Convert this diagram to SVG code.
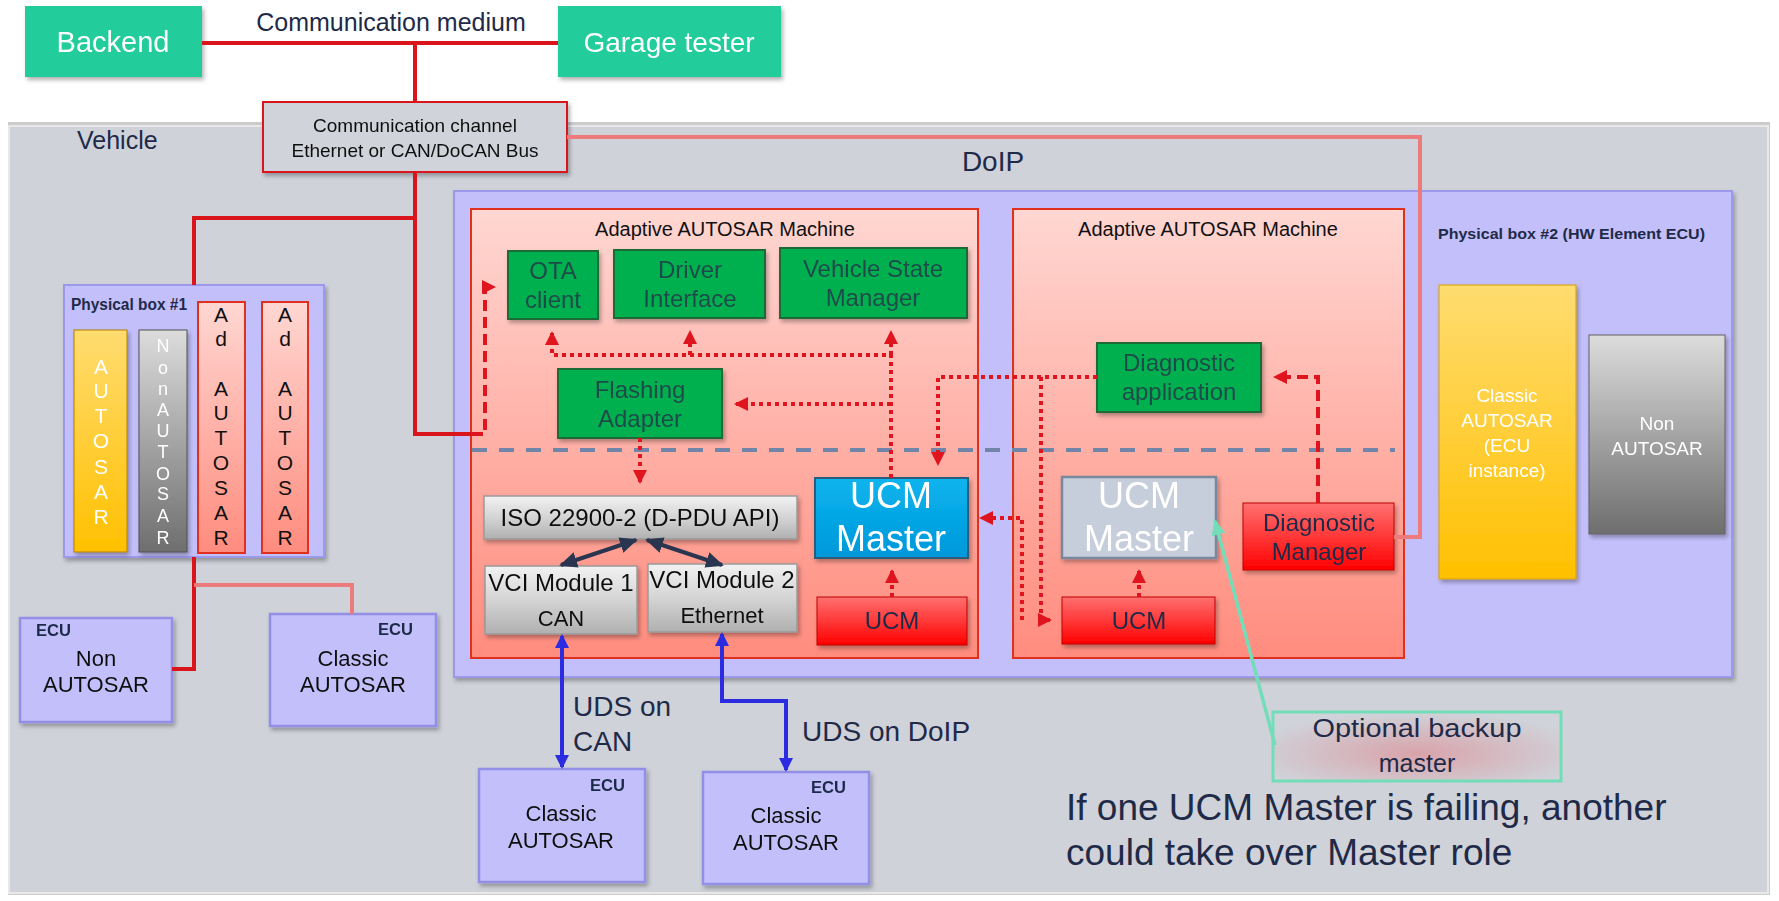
<svg xmlns="http://www.w3.org/2000/svg" width="1779" height="901" viewBox="0 0 1779 901">
<defs>
<style>
text{font-family:"Liberation Sans",Arial,sans-serif;}
.c{text-anchor:middle;}
.green{fill:#00B050;stroke:#1C6B34;stroke-width:2;}
.gtxt{fill:#1F4C4A;font-size:24px;text-anchor:middle;}
.blk{fill:#111111;}
.navy{fill:#1F2A48;}
.lbl{font-weight:bold;fill:#1F2A48;}
.ecu{fill:#C3BFFB;stroke:#948FE6;stroke-width:2.5;}
.red{stroke:#D9151B;stroke-width:4;fill:none;}
.pink{stroke:#EE7B7B;stroke-width:4;fill:none;}
.dot{stroke:#E0141E;stroke-width:4;fill:none;stroke-dasharray:4 4;}
.dash{stroke:#E0141E;stroke-width:4;fill:none;stroke-dasharray:11 6;}
.sep{stroke:#7085A8;stroke-width:4;fill:none;stroke-dasharray:15 12;}
.blue{stroke:#2B2BE0;stroke-width:4;fill:none;}
.dk{stroke:#2A3650;stroke-width:4;fill:none;}
.mint{stroke:#72DDB8;stroke-width:3.5;fill:none;}
.vert{font-size:21px;text-anchor:middle;}
</style>
<linearGradient id="gMach" x1="0" y1="0" x2="0" y2="1"><stop offset="0" stop-color="#FFD7D2"/><stop offset="1" stop-color="#FF8C7E"/></linearGradient>
<linearGradient id="gRed" x1="0" y1="0" x2="0" y2="1"><stop offset="0" stop-color="#FF7070"/><stop offset="1" stop-color="#FF0000"/></linearGradient>
<linearGradient id="gYel" x1="0" y1="0" x2="0" y2="1"><stop offset="0" stop-color="#FFDC70"/><stop offset="1" stop-color="#FFC000"/></linearGradient>
<linearGradient id="gGrayD" x1="0" y1="0" x2="0" y2="1"><stop offset="0" stop-color="#DCDCDC"/><stop offset="1" stop-color="#6E6E6E"/></linearGradient>
<linearGradient id="gSilver" x1="0" y1="0" x2="0" y2="1"><stop offset="0" stop-color="#F2F2F2"/><stop offset="0.5" stop-color="#D4D4D4"/><stop offset="1" stop-color="#B0B0B0"/></linearGradient>
<linearGradient id="gUcmB" x1="0" y1="0" x2="0" y2="1"><stop offset="0" stop-color="#0AB4EE"/><stop offset="1" stop-color="#0098DA"/></linearGradient>
<radialGradient id="gOpt" cx="0.5" cy="0.6" r="0.6"><stop offset="0" stop-color="#D9A3AA"/><stop offset="1" stop-color="#D0D3DA"/></radialGradient>
<filter id="sh" x="-10%" y="-10%" width="130%" height="130%"><feDropShadow dx="2" dy="3" stdDeviation="2" flood-color="#000" flood-opacity="0.3"/></filter>
<marker id="aR" markerUnits="userSpaceOnUse" markerWidth="14" markerHeight="14" refX="12" refY="7" orient="auto"><path d="M0,0 L14,7 L0,14 Z" fill="#E0141E"/></marker>
<marker id="aB" markerUnits="userSpaceOnUse" markerWidth="14" markerHeight="14" refX="12" refY="7" orient="auto-start-reverse"><path d="M0,0 L14,7 L0,14 Z" fill="#2B2BE0"/></marker>
<marker id="aK" markerUnits="userSpaceOnUse" markerWidth="18" markerHeight="16" refX="16" refY="8" orient="auto-start-reverse"><path d="M0,0 L18,8 L0,16 Z" fill="#2A3650"/></marker>
<marker id="aM" markerUnits="userSpaceOnUse" markerWidth="16" markerHeight="14" refX="14" refY="7" orient="auto"><path d="M0,0 L16,7 L0,14 Z" fill="#72DDB8"/></marker>
</defs>

<rect width="1779" height="901" fill="#FFFFFF"/>

<g id="vehicle">
<rect x="8" y="122" width="1762" height="773" fill="#9A9A9A" opacity="0.5"/>
<rect x="9" y="126" width="1759" height="767" fill="#CFD2D9" stroke="#E8E8E8" stroke-width="2"/>
<text x="77" y="149" font-size="25" class="navy">Vehicle</text>
<text x="993" y="171" font-size="28" class="c navy">DoIP</text>
</g>

<g id="backend" filter="url(#sh)">
<rect x="25" y="6" width="177" height="71" fill="#21CD9B"/>
<text x="113" y="52" font-size="29" class="c" fill="#FFFFFF">Backend</text>
</g>
<g id="garage" filter="url(#sh)">
<rect x="558" y="6" width="223" height="71" fill="#21CD9B"/>
<text x="669" y="52" font-size="28" class="c" fill="#FFFFFF">Garage tester</text>
</g>
<text x="391" y="31" font-size="25" class="c navy">Communication medium</text>

<g id="physbox2">
<rect x="454" y="191" width="1278" height="486" fill="#C3BFFB" stroke="#9C98EA" stroke-width="2" filter="url(#sh)"/>
<text x="1438" y="239" font-size="15" class="lbl" textLength="267" lengthAdjust="spacingAndGlyphs">Physical box #2 (HW Element ECU)</text>
</g>

<g id="classic-instance" filter="url(#sh)">
<rect x="1439" y="285" width="137" height="294" fill="url(#gYel)" stroke="#D9A000" stroke-width="1"/>
<text x="1507" y="402" font-size="19" class="c" fill="#FFFFFF">Classic</text>
<text x="1507" y="427" font-size="19" class="c" fill="#FFFFFF">AUTOSAR</text>
<text x="1507" y="452" font-size="19" class="c" fill="#FFFFFF">(ECU</text>
<text x="1507" y="477" font-size="19" class="c" fill="#FFFFFF">instance)</text>
</g>
<g id="non-autosar-2" filter="url(#sh)">
<rect x="1589" y="335" width="136" height="199" fill="url(#gGrayD)" stroke="#606060" stroke-width="1"/>
<text x="1657" y="430" font-size="19" class="c" fill="#FFFFFF">Non</text>
<text x="1657" y="455" font-size="19" class="c" fill="#FFFFFF">AUTOSAR</text>
</g>

<g id="machine1">
<rect x="471" y="209" width="507" height="449" fill="url(#gMach)" stroke="#E0301E" stroke-width="2"/>
<text x="725" y="236" font-size="20" class="c blk">Adaptive AUTOSAR Machine</text>
</g>
<g id="machine2">
<rect x="1013" y="209" width="391" height="449" fill="url(#gMach)" stroke="#E0301E" stroke-width="2"/>
<text x="1208" y="236" font-size="20" class="c blk">Adaptive AUTOSAR Machine</text>
</g>

<g id="comm-channel" filter="url(#sh)">
<rect x="263" y="102" width="304" height="70" fill="#D0D3DA" stroke="#D9151B" stroke-width="2"/>
<text x="415" y="132" font-size="19" class="c blk">Communication channel</text>
<text x="415" y="157" font-size="19" class="c blk">Ethernet or CAN/DoCAN Bus</text>
</g>

<g id="ota" filter="url(#sh)">
<rect x="508" y="251" width="90" height="68" class="green"/>
<text x="553" y="279" class="gtxt">OTA</text>
<text x="553" y="308" class="gtxt">client</text>
</g>
<g id="driver" filter="url(#sh)">
<rect x="614" y="250" width="151" height="68" class="green"/>
<text x="690" y="278" class="gtxt">Driver</text>
<text x="690" y="307" class="gtxt">Interface</text>
</g>
<g id="vsm" filter="url(#sh)">
<rect x="780" y="248" width="187" height="70" class="green"/>
<text x="873" y="277" class="gtxt">Vehicle State</text>
<text x="873" y="306" class="gtxt">Manager</text>
</g>
<g id="flashing" filter="url(#sh)">
<rect x="558" y="369" width="164" height="69" class="green"/>
<text x="640" y="398" class="gtxt">Flashing</text>
<text x="640" y="427" class="gtxt">Adapter</text>
</g>
<g id="diagapp" filter="url(#sh)">
<rect x="1097" y="343" width="164" height="69" class="green"/>
<text x="1179" y="371" class="gtxt">Diagnostic</text>
<text x="1179" y="400" class="gtxt">application</text>
</g>

<g id="iso" filter="url(#sh)">
<rect x="484" y="496" width="313" height="43" fill="url(#gSilver)" stroke="#9A9A9A" stroke-width="1.5"/>
<text x="640" y="526" font-size="24" class="c blk">ISO 22900-2 (D-PDU API)</text>
</g>
<g id="vci1" filter="url(#sh)">
<rect x="485" y="566" width="152" height="68" fill="url(#gSilver)" stroke="#9A9A9A" stroke-width="1.5"/>
<text x="561" y="591" font-size="24" class="c blk">VCI Module 1</text>
<text x="561" y="626" font-size="22" class="c blk">CAN</text>
</g>
<g id="vci2" filter="url(#sh)">
<rect x="648" y="564" width="149" height="68" fill="url(#gSilver)" stroke="#9A9A9A" stroke-width="1.5"/>
<text x="722" y="588" font-size="24" class="c blk">VCI Module 2</text>
<text x="722" y="623" font-size="22" class="c blk">Ethernet</text>
</g>

<g id="ucm-master-1" filter="url(#sh)">
<rect x="815" y="478" width="153" height="80" fill="url(#gUcmB)" stroke="#2A5C7C" stroke-width="2"/>
<text x="891" y="508" font-size="36" class="c" fill="#FFFFFF">UCM</text>
<text x="891" y="551" font-size="36" class="c" fill="#FFFFFF">Master</text>
</g>
<g id="ucm-1" filter="url(#sh)">
<rect x="817" y="597" width="150" height="48" fill="url(#gRed)" stroke="#C00000" stroke-width="1"/>
<text x="892" y="629" font-size="24" class="c navy">UCM</text>
</g>
<g id="ucm-master-2" filter="url(#sh)">
<rect x="1062" y="477" width="154" height="81" fill="#C6CEDB" stroke="#7A889E" stroke-width="2.5"/>
<text x="1139" y="508" font-size="36" class="c" fill="#FFFFFF">UCM</text>
<text x="1139" y="551" font-size="36" class="c" fill="#FFFFFF">Master</text>
</g>
<g id="ucm-2" filter="url(#sh)">
<rect x="1062" y="597" width="153" height="47" fill="url(#gRed)" stroke="#C00000" stroke-width="1"/>
<text x="1139" y="629" font-size="24" class="c navy">UCM</text>
</g>
<g id="diagmgr" filter="url(#sh)">
<rect x="1243" y="503" width="151" height="67" fill="url(#gRed)" stroke="#C00000" stroke-width="1"/>
<text x="1319" y="531" font-size="24" class="c navy">Diagnostic</text>
<text x="1319" y="560" font-size="24" class="c navy">Manager</text>
</g>

<g id="physbox1">
<rect x="64" y="285" width="260" height="272" fill="#C3BFFB" stroke="#9C98EA" stroke-width="2" filter="url(#sh)"/>
<text x="71" y="310" font-size="16" class="lbl" textLength="116" lengthAdjust="spacingAndGlyphs">Physical box #1</text>
</g>
<g id="col-autosar" filter="url(#sh)">
<rect x="74" y="330" width="53" height="222" fill="url(#gYel)" stroke="#B08000" stroke-width="1"/>
<g class="vert" fill="#FFFFFF">
<text x="101" y="374">A</text><text x="101" y="398">U</text><text x="101" y="423">T</text><text x="101" y="448">O</text><text x="101" y="474">S</text><text x="101" y="499">A</text><text x="101" y="524">R</text>
</g>
</g>
<g id="col-nonautosar" filter="url(#sh)">
<rect x="139" y="330" width="48" height="222" fill="url(#gGrayD)" stroke="#505050" stroke-width="1"/>
<g fill="#FFFFFF" font-size="18" text-anchor="middle">
<text x="163" y="352">N</text><text x="163" y="374">o</text><text x="163" y="395">n</text><text x="163" y="416">A</text><text x="163" y="437">U</text><text x="163" y="458">T</text><text x="163" y="480">O</text><text x="163" y="500">S</text><text x="163" y="522">A</text><text x="163" y="544">R</text>
</g>
</g>
<g id="col-ad1">
<rect x="198" y="302" width="47" height="251" fill="url(#gMach)" stroke="#E0301E" stroke-width="2"/>
<g class="vert" fill="#111111">
<text x="221" y="322">A</text><text x="221" y="346">d</text><text x="221" y="396">A</text><text x="221" y="420">U</text><text x="221" y="445">T</text><text x="221" y="470">O</text><text x="221" y="495">S</text><text x="221" y="520">A</text><text x="221" y="545">R</text>
</g>
</g>
<g id="col-ad2">
<rect x="262" y="302" width="46" height="251" fill="url(#gMach)" stroke="#E0301E" stroke-width="2"/>
<g class="vert" fill="#111111">
<text x="285" y="322">A</text><text x="285" y="346">d</text><text x="285" y="396">A</text><text x="285" y="420">U</text><text x="285" y="445">T</text><text x="285" y="470">O</text><text x="285" y="495">S</text><text x="285" y="520">A</text><text x="285" y="545">R</text>
</g>
</g>

<g id="ecu-non" filter="url(#sh)">
<rect x="20" y="618" width="152" height="104" class="ecu"/>
<text x="36" y="636" font-size="16" class="lbl" textLength="35" lengthAdjust="spacingAndGlyphs">ECU</text>
<text x="96" y="666" font-size="22" class="c blk">Non</text>
<text x="96" y="692" font-size="22" class="c blk">AUTOSAR</text>
</g>
<g id="ecu-classic-left" filter="url(#sh)">
<rect x="270" y="614" width="166" height="112" class="ecu"/>
<text x="378" y="635" font-size="16" class="lbl" textLength="35" lengthAdjust="spacingAndGlyphs">ECU</text>
<text x="353" y="666" font-size="22" class="c blk">Classic</text>
<text x="353" y="692" font-size="22" class="c blk">AUTOSAR</text>
</g>
<g id="ecu-classic-can" filter="url(#sh)">
<rect x="479" y="769" width="166" height="113" class="ecu"/>
<text x="590" y="791" font-size="16" class="lbl" textLength="35" lengthAdjust="spacingAndGlyphs">ECU</text>
<text x="561" y="821" font-size="22" class="c blk">Classic</text>
<text x="561" y="848" font-size="22" class="c blk">AUTOSAR</text>
</g>
<g id="ecu-classic-doip" filter="url(#sh)">
<rect x="703" y="772" width="166" height="112" class="ecu"/>
<text x="811" y="793" font-size="16" class="lbl" textLength="35" lengthAdjust="spacingAndGlyphs">ECU</text>
<text x="786" y="823" font-size="22" class="c blk">Classic</text>
<text x="786" y="850" font-size="22" class="c blk">AUTOSAR</text>
</g>

<g id="optional">
<rect x="1273" y="712" width="288" height="69" fill="url(#gOpt)" stroke="#72DDB8" stroke-width="3"/>
<text x="1417" y="737" font-size="25" class="c navy" textLength="209" lengthAdjust="spacingAndGlyphs">Optional backup</text>
<text x="1417" y="772" font-size="25" class="c navy">master</text>
</g>
<g id="note">
<text x="1066" y="820" font-size="37" class="navy">If one UCM Master is failing, another</text>
<text x="1066" y="865" font-size="37" class="navy">could take over Master role</text>
</g>

<g id="connectors">
<path class="red" d="M202,43 H558 M415,43 V102"/>
<path class="red" d="M415,172 V434 H472 M415,218 H194 V285"/>
<path class="dash" d="M472,434 H485 V287 H494" marker-end="url(#aR)"/>
<path class="red" d="M194,557 V669 H172"/>
<path class="pink" d="M194,585 H352 V614"/>
<path class="pink" d="M567,137 H1420 V537 H1394"/>
<path class="sep" d="M472,450 H1395"/>
<path class="dot" d="M891,478 V355 H552 V333" marker-end="url(#aR)"/>
<path class="dot" d="M690,355 V332" marker-end="url(#aR)"/>
<path class="dot" d="M891,355 V332" marker-end="url(#aR)"/>
<path class="dot" d="M891,404 H736" marker-end="url(#aR)"/>
<path class="dot" d="M640,438 V482" marker-end="url(#aR)"/>
<path class="dot" d="M892,597 V571" marker-end="url(#aR)"/>
<path class="dot" d="M1097,377 H938 V464" marker-end="url(#aR)"/>
<path class="dot" d="M1041,377 V620 H1050" marker-end="url(#aR)"/>
<path class="dot" d="M1022,620 V518 H981" marker-end="url(#aR)"/>
<path class="dot" d="M1139,597 V571" marker-end="url(#aR)"/>
<path class="dash" d="M1318,503 V377 H1275" marker-end="url(#aR)"/>
<path class="dk" d="M636,540 L561,565" marker-start="url(#aK)" marker-end="url(#aK)"/>
<path class="dk" d="M647,540 L722,565" marker-start="url(#aK)" marker-end="url(#aK)"/>
<path class="blue" d="M562,636 V767" marker-start="url(#aB)" marker-end="url(#aB)"/>
<path class="blue" d="M722,634 V701 H786 V770" marker-start="url(#aB)" marker-end="url(#aB)"/>
<path class="mint" d="M1275,745 L1215,521" marker-end="url(#aM)"/>
</g>
<text x="573" y="716" font-size="28" class="navy">UDS on</text>
<text x="573" y="751" font-size="28" class="navy">CAN</text>
<text x="802" y="741" font-size="28" class="navy">UDS on DoIP</text>
</svg>
